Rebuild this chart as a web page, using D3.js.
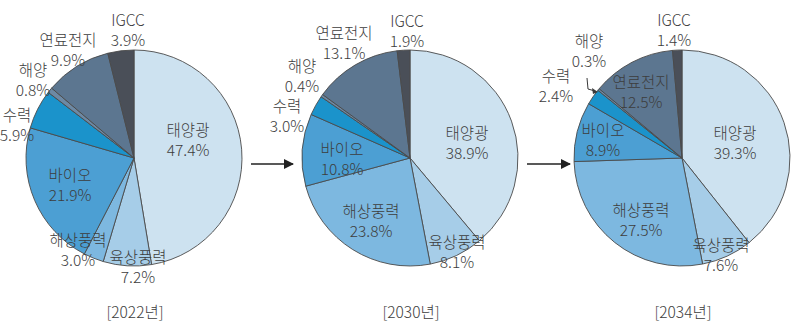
<!DOCTYPE html>
<html><head><meta charset="utf-8">
<script src="https://cdn.jsdelivr.net/npm/d3@7"></script>
<style>
html,body{margin:0;padding:0;background:#fff;}
svg text{font-family:"Noto Sans CJK KR","Noto Sans",sans-serif;font-size:15.5px;font-weight:300;fill:#3d3d3d;}
</style></head>
<body><svg id="c" width="792" height="334"></svg>
<script>
const categories = ["태양광","육상풍력","해상풍력","바이오","수력","해양","연료전지","IGCC"];
const years = ["2022년","2030년","2034년"];
const values2022 = [47.4, 7.2, 3.0, 21.9, 5.9, 0.8, 9.9, 3.9];
const values2030 = [38.9, 8.1, 23.8, 10.8, 3.0, 0.4, 13.1, 1.9];
const values2034 = [39.3, 7.6, 27.5, 8.9, 2.4, 0.3, 12.5, 1.4];
const colors = ["#cde2f0","#a6cde8","#7db8e0","#4c9fd3","#1b93cb","#6d89a4","#5c7690","#4a4f58"];

// layout (label anchor offsets relative to each pie centre, per category)
const centers = [[134,158],[410,158],[682,158]];
const radius = 108;
const labelPos = [
  [[54,-28],[4,99],[-56,82],[-64,17],[-117,-43],[-101,-88],[-66,-118],[-6,-138]],
  [[57,-25],[47,84],[-39,53],[-68,-9],[-123,-52],[-108,-92],[-66,-125],[-3,-137]],
  [[53,-25],[39,87],[-41,52],[-79,-28],[-126,-82],[-93,-117],[-41,-76],[-8,-138]]
];
const allValues = [values2022, values2030, values2034];

const svg = d3.select("#c");
const pie = d3.pie().sort(null).value(d => d);
const arc = d3.arc().innerRadius(0).outerRadius(radius);

allValues.forEach((vals, i) => {
  const [cx, cy] = centers[i];
  const g = svg.append("g").attr("transform", `translate(${cx},${cy})`);
  g.selectAll("path").data(pie(vals)).join("path")
    .attr("d", arc)
    .attr("fill", (d, j) => colors[j])
    .attr("stroke", "#4a4a4a")
    .attr("stroke-width", 0.9)
    .attr("stroke-linejoin", "round");
  const lg = g.selectAll("g.lbl").data(vals).join("g").attr("class","lbl")
    .attr("transform", (d, j) => `translate(${labelPos[i][j][0]},${labelPos[i][j][1]})`);
  lg.append("text").attr("text-anchor","middle").attr("y", 6).text((d, j) => categories[j]);
  lg.append("text").attr("text-anchor","middle").attr("y", 26).text(d => d.toFixed(1) + "%");
  svg.append("text").attr("x", cx + 1).attr("y", 318).attr("text-anchor","middle")
    .text("[" + years[i] + "]");
});

// leader for 해양 in 2034
const [c3x, c3y] = centers[2];
svg.append("path")
  .attr("d", `M${c3x-95},${c3y-80} L${c3x-94},${c3y-69} L${c3x-87},${c3y-67}`)
  .attr("fill","none").attr("stroke","#3a3a3a").attr("stroke-width",1);
svg.append("path")
  .attr("d", `M${c3x-84},${c3y-66} L${c3x-90},${c3y-70} L${c3x-89},${c3y-64} Z`)
  .attr("fill","#3a3a3a");

// arrows between pies
const defs = svg.append("defs");
defs.append("marker").attr("id","ah").attr("viewBox","0 0 10 10").attr("refX",9).attr("refY",5)
  .attr("markerWidth",10).attr("markerHeight",10).attr("markerUnits","userSpaceOnUse").attr("orient","auto")
  .append("path").attr("d","M0,0 L10,5 L0,10 Z").attr("fill","#222");
[[251,293],[527,570]].forEach(([x1,x2]) => {
  svg.append("line").attr("x1",x1).attr("x2",x2).attr("y1",164).attr("y2",164)
    .attr("stroke","#222").attr("stroke-width",1.6).attr("marker-end","url(#ah)");
});
</script></body></html>
